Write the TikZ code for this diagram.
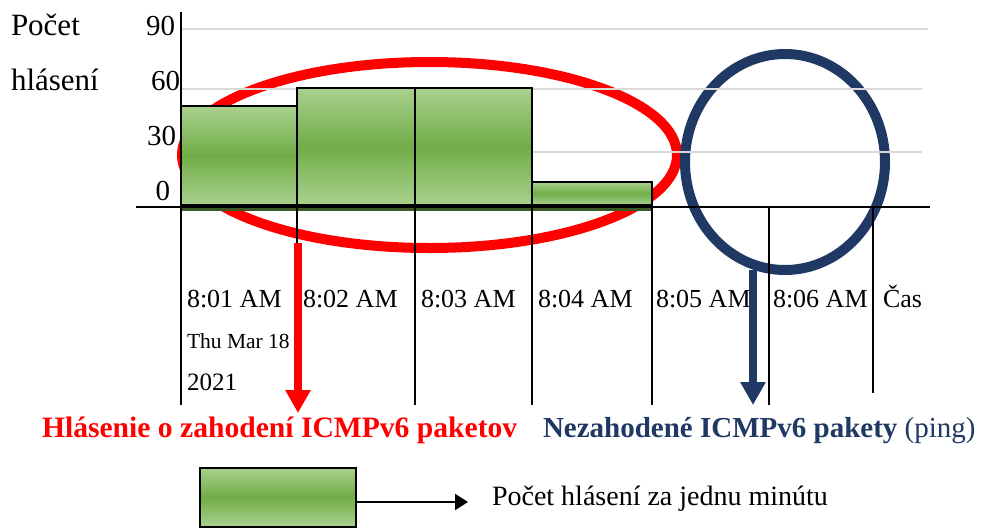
\documentclass[tikz,border=0pt]{standalone}
\usepackage{fontspec}
\setmainfont{Liberation Serif}
\usepackage{tikz}
\definecolor{hlred}{RGB}{255,0,0}
\definecolor{hlnavy}{RGB}{31,56,100}
\definecolor{barlight}{RGB}{169,209,142}
\definecolor{bardark}{RGB}{112,173,71}
\definecolor{barshadow}{RGB}{59,89,38}
\definecolor{gridgray}{RGB}{217,217,217}
\usetikzlibrary{positioning}
\usetikzlibrary{arrows.meta}
\usetikzlibrary{calc}
\tikzset{lbl/.style={anchor=base west,inner sep=0pt,outer sep=0pt}}
\tikzset{ylbl/.style={anchor=base east,inner sep=0pt,outer sep=0pt,font=\fontsize{29}{34}\selectfont}}
\tikzset{tlbl/.style={lbl,font=\fontsize{26}{31}\selectfont}}
\tikzset{bar/.style={draw=black,line width=2pt,top color=barlight,bottom color=barlight,middle color=bardark}}
\tikzset{gridln/.style={gridgray,line width=2pt}}
\tikzset{tickln/.style={black,line width=1.6pt}}
\tikzset{bigarrow/.style={line width=8pt,-{Triangle[width=24pt,length=23pt]}}}
\tikzset{legarrow/.style={black,line width=2pt,-{Triangle[width=16pt,length=13pt]}}}

\begin{document}
\begin{tikzpicture}[x=1pt,y=-1pt]
        \useasboundingbox (0,0) rectangle (983,528);
        % markings
        \draw[hlred,line width=10pt] (429.5,155) ellipse [x radius=247.5, y radius=93];
        \draw[hlnavy,line width=10pt] (785,162) ellipse [x radius=100, y radius=108];
        % grid and bars
        \draw[gridln] (181,29) -- (928,29);
        \draw[gridln] (181,89) -- (922,89);
        \draw[gridln] (181,152) -- (922,152);
        \fill[barshadow] (181,203) rectangle (653,211);
        \draw[bar] (181,106) rectangle (297,205);
        \draw[bar] (297,88) rectangle (415,205);
        \draw[bar] (415,88) rectangle (532,205);
        \draw[bar] (532,182) rectangle (652,205);
        % axes
        \draw[black,line width=2pt] (136,207) -- (930,207);
        \draw[tickln] (181,12) -- (181,405);
        \draw[tickln] (297,207) -- (297,405);
        \draw[tickln] (415,207) -- (415,405);
        \draw[tickln] (532,207) -- (532,405);
        \draw[tickln] (652,207) -- (652,405);
        \draw[tickln] (769,207) -- (769,405);
        \draw[tickln] (873,207) -- (873,393);
        % labels
        \node[lbl,font=\fontsize{31}{36}\selectfont] (ytitle) at (11,35) {Počet};
        \node[lbl,font=\fontsize{31}{36}\selectfont] (ytitleb) at (11,90) {hlásení};
        \node[ylbl] (y90) at (175,35) {90};
        \node[ylbl] (y60) at (180,90) {60};
        \node[ylbl] (y30) at (176,145) {30};
        \node[ylbl] (y0) at (170,200) {0};
        \node[tlbl] (t1) at (187,307) {8:01 AM};
        \node[tlbl] (t2) at (303,307) {8:02 AM};
        \node[tlbl] (t3) at (421,307) {8:03 AM};
        \node[tlbl] (t4) at (538,307) {8:04 AM};
        \node[tlbl] (t5) at (656,307) {8:05 AM};
        \node[tlbl] (t6) at (773,307) {8:06 AM};
        \node[tlbl] (tcas) at (883,307) {Čas};
        \node[lbl,font=\fontsize{21.5}{26}\selectfont] (tday) at (187,348) {Thu Mar 18};
        \node[lbl,font=\fontsize{25}{30}\selectfont] (tyear) at (187,390) {2021};
        % captions
        \node[lbl,hlred,font=\fontsize{29.6}{34}\selectfont\bfseries] (droptxt) at (42,437) {Hlásenie o zahodení ICMPv6 paketov};
        \node[lbl,hlnavy,font=\fontsize{29}{34}\selectfont] (keeptxt) at (543,437) {\textbf{Nezahodené ICMPv6 pakety} (ping)};
        \coordinate (redout) at (298,243);
        \coordinate (redtip) at (298,413);
        \coordinate (bluout) at (753,270);
        \coordinate (blutip) at (753,405);
        \draw[bigarrow,hlred] (redout) -- (redtip);
        \draw[bigarrow,hlnavy] (bluout) -- (blutip);
        % legend
        \node[bar,minimum width=156pt,minimum height=59pt,inner sep=0pt] (legbox) at (278,497) {};
        \node[lbl,font=\fontsize{28}{33}\selectfont] (legtxt) at (492,505) {Počet hlásení za jednu minútu};
        \coordinate (legtip) at (468,502);
        \draw[legarrow] (legbox.east |- legtip) -- (legtip);
      \end{tikzpicture}
\end{document}
